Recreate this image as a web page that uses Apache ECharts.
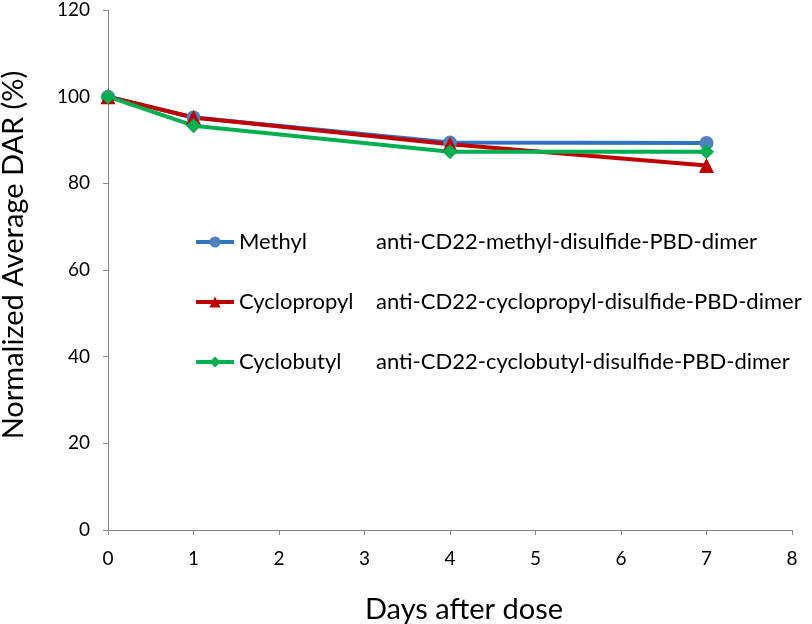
<!DOCTYPE html>
<html><head><meta charset="utf-8">
<script src="https://cdn.jsdelivr.net/npm/echarts@6/dist/echarts.min.js"></script>
<style>html,body{margin:0;padding:0;background:#fff}#c{width:812px;height:624px}</style>
</head><body><div id="c"></div>
<script>
const days = [0, 1, 4, 7];
const seriesNames = ['Methyl', 'Cyclopropyl', 'Cyclobutyl'];
const descriptions = ['anti-CD22-methyl-disulfide-PBD-dimer', 'anti-CD22-cyclopropyl-disulfide-PBD-dimer', 'anti-CD22-cyclobutyl-disulfide-PBD-dimer'];
const methyl = [100, 95.2, 89.4, 89.3];
const cyclopropyl = [100, 95.2, 89.0, 84.1];
const cyclobutyl = [100, 93.3, 87.3, 87.3];
const yTicks = [0, 20, 40, 60, 80, 100, 120];
const xTicks = [0, 1, 2, 3, 4, 5, 6, 7, 8];

const font = 'Lato, "Open Sans", sans-serif';
const pairs = (vals) => days.map((d, i) => [d, vals[i]]);
const chart = echarts.init(document.getElementById('c'), null, {renderer: 'canvas'});
const styles = [
  {line: '#2E75C0', marker: '#4F81BD', symbol: 'circle', size: 14},
  {line: '#C00000', marker: '#C00000', symbol: 'triangle', size: 15},
  {line: '#00B050', marker: '#00B050', symbol: 'diamond', size: 15}
];
const data = [methyl, cyclopropyl, cyclobutyl];
chart.setOption({
  animation: false,
  textStyle: {fontFamily: font},
  grid: {left: 108, right: 20, top: 10, bottom: 94, outerBoundsMode: 'none', containLabel: false},
  legend: {
    orient: 'vertical', left: 189, top: 226, itemGap: 38,
    itemWidth: 38, itemHeight: 14,
    lineStyle: {width: 4},
    data: seriesNames,
    formatter: function (name) {
      const i = seriesNames.indexOf(name);
      return '{a|' + name + '}{b|' + descriptions[i] + '}';
    },
    textStyle: {
      rich: {
        a: {fontSize: 22, width: 137, color: '#000', fontFamily: font},
        b: {fontSize: 22, color: '#000', fontFamily: font}
      }
    }
  },
  xAxis: {
    type: 'value', min: 0, max: 8, interval: 1,
    name: 'Days after dose', nameLocation: 'middle', nameGap: 65,
    nameTextStyle: {fontSize: 29, color: '#000', fontFamily: font, padding: [0, 0, 0, 28]},
    axisLine: {lineStyle: {color: '#888', width: 1}},
    axisTick: {show: true, inside: false, length: 5, lineStyle: {color: '#888'}},
    axisLabel: {fontSize: 19, color: '#000', margin: 19, formatter: v => xTicks.includes(v) ? String(v) : ''},
    splitLine: {show: false}
  },
  yAxis: {
    type: 'value', min: 0, max: 120, interval: 20,
    name: 'Normalized Average DAR (%)', nameLocation: 'middle', nameGap: 80, nameRotate: 90,
    nameTextStyle: {fontSize: 29, color: '#000', fontFamily: font, padding: [0, 0, 0, 30]},
    axisLine: {show: true, lineStyle: {color: '#888', width: 1}},
    axisTick: {show: true, inside: false, length: 5, lineStyle: {color: '#888'}},
    axisLabel: {fontSize: 19, color: '#000', margin: 18, formatter: v => yTicks.includes(v) ? String(v) : ''},
    splitLine: {show: false}
  },
  series: seriesNames.map((n, i) => ({
    name: n, type: 'line', data: pairs(data[i]),
    symbol: styles[i].symbol, symbolSize: styles[i].size, showSymbol: true,
    lineStyle: {color: styles[i].line, width: 4},
    itemStyle: {color: styles[i].marker, borderWidth: 0}
  }))
});
</script></body></html>
